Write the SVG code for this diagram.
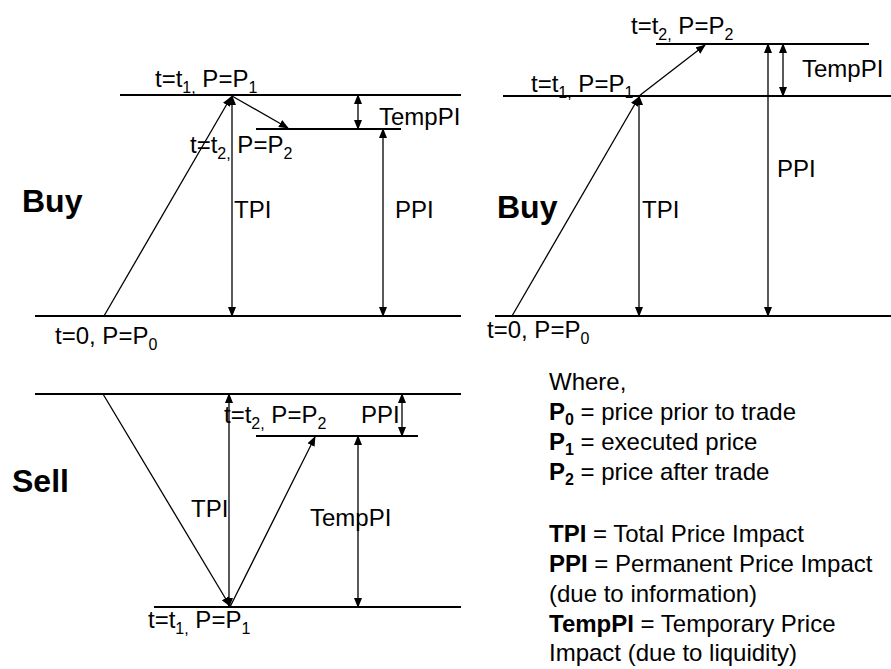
<svg xmlns="http://www.w3.org/2000/svg" width="891" height="669" viewBox="0 0 891 669">
<style>
text { font-family: "Liberation Sans", Arial, sans-serif; fill: #000; }
.lbl { font-size: 24px; }
.sub { font-size: 16px; }
.big { font-size: 32px; font-weight: bold; }
.leg { font-size: 24px; }
.b { font-weight: bold; }
.level { stroke: #000; stroke-width: 2; fill: none; }
.arr { stroke: #000; stroke-width: 1.3; fill: none; marker-end: url(#ah); }
.dbl { stroke: #000; stroke-width: 1.3; fill: none; marker-start: url(#ah); marker-end: url(#ah); }
</style>
<defs>
<marker id="ah" markerUnits="userSpaceOnUse" markerWidth="10" markerHeight="8" refX="9" refY="4" orient="auto-start-reverse">
<path d="M0,0 L10,4 L0,8 z" fill="#000"/>
</marker>
</defs>
<rect width="891" height="669" fill="#fff"/>

<!-- Panel 1: Buy (top-left) -->
<g id="buy-left">
<line class="level" x1="120" y1="95" x2="461" y2="95"/>
<line class="level" x1="256" y1="129" x2="401" y2="129"/>
<line class="level" x1="35" y1="316" x2="461" y2="316"/>
<text class="big" x="22" y="212">Buy</text>
<text class="lbl" x="155" y="87">t=t<tspan class="sub" dy="6">1,</tspan><tspan dy="-6"> P=P</tspan><tspan class="sub" dy="6">1</tspan></text>
<text class="lbl" x="379" y="125">TempPI</text>
<text class="lbl" x="190" y="153">t=t<tspan class="sub" dy="6">2,</tspan><tspan dy="-6"> P=P</tspan><tspan class="sub" dy="6">2</tspan></text>
<text class="lbl" x="234" y="218">TPI</text>
<text class="lbl" x="395" y="218">PPI</text>
<text class="lbl" x="55" y="344">t=0, P=P<tspan class="sub" dy="6">0</tspan></text>
</g>

<!-- Panel 2: Buy (top-right) -->
<g id="buy-right">
<line class="level" x1="656" y1="44" x2="869" y2="44"/>
<line class="level" x1="503" y1="96" x2="891" y2="96"/>
<line class="level" x1="495" y1="316" x2="891" y2="316"/>
<text class="big" x="497" y="218">Buy</text>
<text class="lbl" x="631" y="34">t=t<tspan class="sub" dy="6">2,</tspan><tspan dy="-6"> P=P</tspan><tspan class="sub" dy="6">2</tspan></text>
<text class="lbl" x="531" y="92">t=t<tspan class="sub" dy="6">1,</tspan><tspan dy="-6"> P=P</tspan><tspan class="sub" dy="6">1</tspan></text>
<text class="lbl" x="802" y="77">TempPI</text>
<text class="lbl" x="777" y="177">PPI</text>
<text class="lbl" x="642" y="218">TPI</text>
<text class="lbl" x="487" y="338">t=0, P=P<tspan class="sub" dy="6">0</tspan></text>
</g>

<!-- Panel 3: Sell (bottom-left) -->
<g id="sell">
<line class="level" x1="35" y1="394" x2="461" y2="394"/>
<line class="level" x1="256" y1="436" x2="418" y2="436"/>
<line class="level" x1="154" y1="607" x2="461" y2="607"/>
<text class="big" x="12" y="492">Sell</text>
<text class="lbl" x="224" y="423">t=t<tspan class="sub" dy="6">2,</tspan><tspan dy="-6"> P=P</tspan><tspan class="sub" dy="6">2</tspan></text>
<text class="lbl" x="361" y="423">PPI</text>
<text class="lbl" x="191" y="517">TPI</text>
<text class="lbl" x="310" y="526">TempPI</text>
<text class="lbl" x="148" y="628">t=t<tspan class="sub" dy="6">1,</tspan><tspan dy="-6"> P=P</tspan><tspan class="sub" dy="6">1</tspan></text>
</g>

<!-- Connectors -->
<g id="connectors">
<line class="arr" x1="104" y1="316" x2="231" y2="97"/>
<line class="arr" x1="232" y1="96" x2="288" y2="128"/>
<line class="dbl" x1="232" y1="96" x2="232" y2="316"/>
<line class="dbl" x1="383" y1="129" x2="383" y2="316"/>
<line class="dbl" x1="358" y1="95" x2="358" y2="129"/>

<line class="arr" x1="512" y1="316" x2="639" y2="97"/>
<line class="arr" x1="639" y1="96" x2="705" y2="45"/>
<line class="dbl" x1="639" y1="96" x2="639" y2="316"/>
<line class="dbl" x1="768" y1="44" x2="768" y2="316"/>
<line class="dbl" x1="783" y1="44" x2="783" y2="96"/>

<line class="arr" x1="103" y1="394" x2="230" y2="606"/>
<line class="arr" x1="230" y1="607" x2="315" y2="437"/>
<line class="dbl" x1="229" y1="394" x2="229" y2="607"/>
<line class="dbl" x1="358" y1="436" x2="358" y2="607"/>
<line class="dbl" x1="402" y1="394" x2="402" y2="436"/>
</g>

<!-- Legend -->
<g id="legend">
<text class="leg" x="549" y="390">Where,</text>
<text class="leg" x="549" y="420"><tspan class="b">P<tspan class="sub" dy="5">0</tspan></tspan><tspan dy="-5"> = price prior to trade</tspan></text>
<text class="leg" x="549" y="450"><tspan class="b">P<tspan class="sub" dy="5">1</tspan></tspan><tspan dy="-5"> = executed price</tspan></text>
<text class="leg" x="549" y="480"><tspan class="b">P<tspan class="sub" dy="5">2</tspan></tspan><tspan dy="-5"> = price after trade</tspan></text>
<text class="leg" x="549" y="542"><tspan class="b">TPI</tspan> = Total Price Impact</text>
<text class="leg" x="549" y="572"><tspan class="b">PPI</tspan> = Permanent Price Impact</text>
<text class="leg" x="549" y="602">(due to information)</text>
<text class="leg" x="549" y="632"><tspan class="b">TempPI</tspan> = Temporary Price</text>
<text class="leg" x="549" y="661">Impact (due to liquidity)</text>
</g>
</svg>
